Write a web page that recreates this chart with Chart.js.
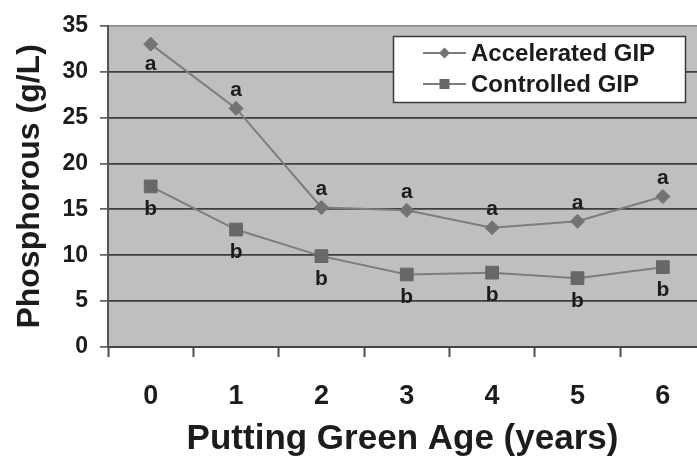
<!DOCTYPE html>
<html><head><meta charset="utf-8">
<script src="https://cdn.jsdelivr.net/npm/chart.js@4.4.1/dist/chart.umd.min.js"></script>
<style>html,body{margin:0;padding:0;background:#fff;overflow:hidden}#wrap{width:697px;height:460px}</style>
</head><body><div id="wrap"><canvas id="c" width="697" height="460"></canvas></div>
<script>
// ---- data ----
const ages = [0, 1, 2, 3, 4, 5, 6];
const acceleratedGIP = [33.0, 26.0, 15.2, 14.9, 13.0, 13.7, 16.4];
const controlledGIP = [17.5, 12.8, 9.9, 7.9, 8.1, 7.5, 8.7];
const acceleratedLetters = ['a', 'a', 'a', 'a', 'a', 'a', 'a'];
const controlledLetters = ['b', 'b', 'b', 'b', 'b', 'b', 'b'];
const yTicks = [0, 5, 10, 15, 20, 25, 30, 35];
const seriesNames = ['Accelerated GIP', 'Controlled GIP'];
const xTitle = 'Putting Green Age (years)';
const yTitle = 'Phosphorous (g/L)';

// ---- style ----
const FONT = "'Liberation Sans', Arial, Helvetica, sans-serif";
const TEXT = '#1c1c1c';
const LINE = '#7d7d7d';
const DIAMOND = '#737373';
const SQUARE = '#676767';
// letter placement: first accelerated label below the point, others above
const accPlacement = ['below', 'above', 'above', 'above', 'above', 'above', 'above'];
const ctlPlacement = ['below', 'below', 'below', 'below', 'below', 'below', 'below'];

const toPoints = (vals) => ages.map((a, i) => ({ x: a, y: vals[i] }));

const plotBg = {
  id: 'plotBg',
  beforeDraw(chart) {
    const { ctx, chartArea: a } = chart;
    ctx.save();
    ctx.fillStyle = '#bfbfbf';
    ctx.fillRect(a.left, a.top, a.right - a.left, a.bottom - a.top);
    ctx.restore();
  }
};

const letters = {
  id: 'letters',
  afterDatasetsDraw(chart) {
    const { ctx } = chart;
    ctx.save();
    ctx.font = 'bold 21px ' + FONT;
    ctx.fillStyle = TEXT;
    ctx.textAlign = 'center';
    ctx.textBaseline = 'middle';
    chart.data.datasets.forEach((ds, i) => {
      const meta = chart.getDatasetMeta(i);
      meta.data.forEach((pt, j) => {
        const place = ds.placement[j];
        const dy = place === 'above' ? -18 : (i === 0 ? 20 : 23);
        ctx.fillText(ds.letters[j], pt.x, pt.y + dy);
      });
    });
    ctx.restore();
  }
};

const boxLegend = {
  id: 'boxLegend',
  afterDraw(chart) {
    const { ctx } = chart;
    const x0 = 393, y0 = 36, w = 293, h = 67;
    ctx.save();
    ctx.fillStyle = '#ffffff';
    ctx.fillRect(x0, y0, w, h);
    ctx.strokeStyle = '#3a3a3a';
    ctx.lineWidth = 1.5;
    ctx.strokeRect(x0 + 0.5, y0 + 0.5, w - 1, h - 1);
    const rows = [53, 84];
    chart.data.datasets.forEach((ds, i) => {
      const y = rows[i];
      ctx.strokeStyle = ds.borderColor;
      ctx.lineWidth = 2;
      ctx.beginPath();
      ctx.moveTo(423, y);
      ctx.lineTo(466, y);
      ctx.stroke();
      ctx.fillStyle = ds.pointBackgroundColor;
      ctx.beginPath();
      if (ds.pointStyle === 'rectRot') {
        ctx.moveTo(444.5, y - 5.5); ctx.lineTo(450, y); ctx.lineTo(444.5, y + 5.5); ctx.lineTo(439, y);
      } else {
        ctx.rect(439.5, y - 5, 10, 10);
      }
      ctx.closePath();
      ctx.fill();
      ctx.fillStyle = TEXT;
      ctx.font = 'bold 24px ' + FONT;
      ctx.textAlign = 'left';
      ctx.textBaseline = 'middle';
      ctx.fillText(ds.label, 471, y + 1);
    });
    ctx.restore();
  }
};

new Chart(document.getElementById('c'), {
  type: 'line',
  data: {
    datasets: [
      {
        label: seriesNames[0], data: toPoints(acceleratedGIP),
        letters: acceleratedLetters, placement: accPlacement,
        borderColor: LINE, borderWidth: 2,
        pointStyle: 'rectRot', pointRadius: 7,
        pointBackgroundColor: DIAMOND, pointBorderColor: DIAMOND, pointBorderWidth: 1
      },
      {
        label: seriesNames[1], data: toPoints(controlledGIP),
        letters: controlledLetters, placement: ctlPlacement,
        borderColor: LINE, borderWidth: 2,
        pointStyle: 'rect', pointRadius: 9,
        pointBackgroundColor: SQUARE, pointBorderColor: SQUARE, pointBorderWidth: 1
      }
    ]
  },
  options: {
    responsive: false,
    animation: false,
    events: [],
    layout: { autoPadding: false, padding: { top: 25, right: 0, left: 0, bottom: 0 } },
    plugins: { legend: { display: false }, tooltip: { enabled: false } },
    scales: {
      x: {
        type: 'linear', min: -0.5, max: 6.4,
        afterBuildTicks: (s) => {
          const t = [];
          ages.forEach(a => { t.push({ value: a - 0.5 }); t.push({ value: a }); });
          s.ticks = t;
        },
        afterFit: (s) => { s.height = 113; s.paddingRight = 0; s.paddingLeft = 0; },
        grid: {
          drawOnChartArea: false, drawTicks: true, tickLength: 10, tickWidth: 2,
          tickColor: (c) => (c.tick && Math.abs(c.tick.value % 1) === 0.5) ? '#4a4a4a' : 'rgba(0,0,0,0)'
        },
        border: { display: true, color: '#444', width: 2 },
        ticks: {
          autoSkip: false, maxRotation: 0, padding: 23, color: TEXT,
          font: { family: FONT, size: 27, weight: 'bold' },
          callback: (v) => Number.isInteger(v) ? String(v) : ''
        },
        title: {
          display: true, text: xTitle, color: TEXT,
          font: { family: FONT, size: 35, weight: 'bold' },
          padding: { top: 0, bottom: 0 }
        }
      },
      y: {
        min: 0, max: 35,
        afterBuildTicks: (s) => { s.ticks = yTicks.map(v => ({ value: v })); },
        afterFit: (s) => { s.width = 108; },
        grid: {
          color: (c) => (c.tick && c.tick.value === 35) ? '#8c8c8c' : '#3e3e3e',
          lineWidth: 1.8, tickLength: 8, tickColor: '#555', tickWidth: 1.6
        },
        border: { display: true, color: '#555', width: 2 },
        ticks: {
          padding: 12, color: TEXT,
          font: { family: FONT, size: 23, weight: 'bold' }
        },
        title: {
          display: true, text: yTitle, color: TEXT,
          font: { family: FONT, size: 32, weight: 'bold' },
          padding: { top: 11, bottom: 0 }
        }
      }
    }
  },
  plugins: [plotBg, letters, boxLegend]
});
</script>
</body></html>
